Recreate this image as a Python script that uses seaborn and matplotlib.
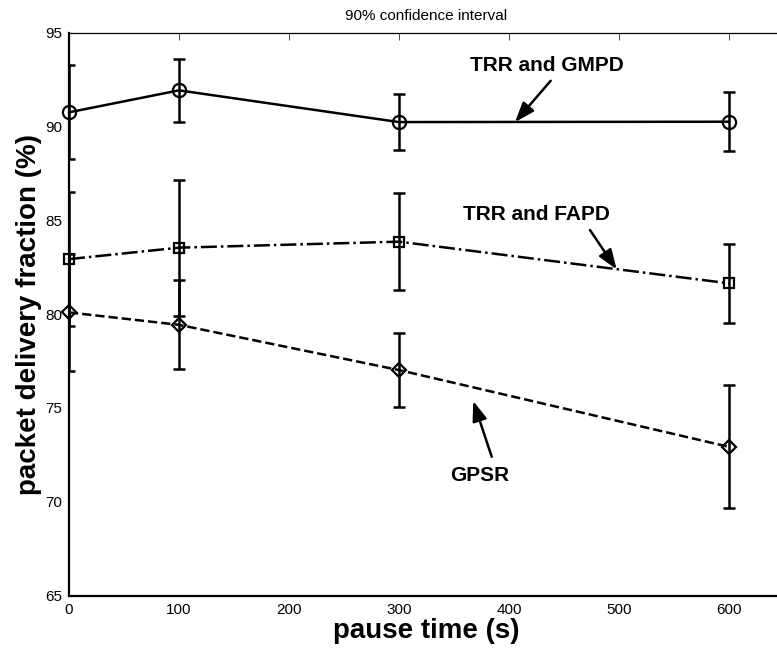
import numpy as np
import pandas as pd
import matplotlib
matplotlib.use("Agg")
import matplotlib.pyplot as plt
import seaborn as sns

# ----- data -----
pause_time = [0, 100, 300, 600]

gmpd = [90.75, 91.92, 90.23, 90.25]
gmpd_ci = [2.5, 1.66, 1.5, 1.58]

fapd = [82.93, 83.54, 83.86, 81.64]
fapd_ci = [3.55, 3.63, 2.6, 2.1]

gpsr = [80.09, 79.43, 77.02, 72.93]
gpsr_ci = [3.1, 2.37, 1.97, 3.28]

x_ticks = [0, 100, 200, 300, 400, 500, 600]
y_ticks = [65, 70, 75, 80, 85, 90, 95]
# ---------------------------------------

sns.set_style("white")
plt.rcParams['font.family'] = ['Liberation Sans', 'DejaVu Sans']
plt.rcParams.update({"text.color": "black", "axes.labelcolor": "black",
                     "xtick.color": "black", "ytick.color": "black"})

df = pd.DataFrame({
    "pause": pause_time * 3,
    "pdf": gmpd + fapd + gpsr,
    "ci": gmpd_ci + fapd_ci + gpsr_ci,
    "proto": ["TRR and GMPD"] * 4 + ["TRR and FAPD"] * 4 + ["GPSR"] * 4,
})

styles = {
    "TRR and GMPD": dict(linestyle="-", marker="o", markersize=9.5),
    "TRR and FAPD": dict(linestyle="-.", marker="s", markersize=7),
    "GPSR": dict(linestyle="--", marker="D", markersize=7.5),
}

fig = plt.figure(figsize=(7.77, 6.56), dpi=100)
ax = fig.add_axes([0.0888, 0.0919, 0.9202, 0.8585])

for name, st in styles.items():
    sub = df[df["proto"] == name]
    ax.errorbar(sub["pause"], sub["pdf"], yerr=sub["ci"], fmt="none",
                ecolor="black", elinewidth=1.8, capsize=4.5, capthick=1.8)
    sns.lineplot(data=sub, x="pause", y="pdf", ax=ax, color="black",
                 linewidth=1.8, markerfacecolor="none", markeredgecolor="black",
                 markeredgewidth=1.6, clip_on=False, zorder=3, **st)

ax.set_xlim(0, 650)
ax.set_ylim(65, 95)
ax.set_xticks(x_ticks)
ax.set_yticks(y_ticks)
ax.tick_params(direction="in", length=5, width=0.7, color="#444444",
               labelcolor="black", top=True, right=True, labelsize=11, pad=5)

for side in ["left", "bottom"]:
    ax.spines[side].set_linewidth(1.6)
for side in ["top", "right"]:
    ax.spines[side].set_linewidth(0.9)
for sp in ax.spines.values():
    sp.set_color("black")

ax.set_xlabel("pause time (s)", fontsize=20, fontweight="bold", labelpad=1)
ax.set_ylabel("packet delivery fraction (%)", fontsize=20, fontweight="bold", labelpad=2)
ax.set_title("90% confidence interval", fontsize=11, pad=9)

# labels with arrows
arrow_kw = dict(arrowstyle="-|>,head_length=0.6,head_width=0.22", lw=1.8,
                color="black", mutation_scale=20, shrinkA=0, shrinkB=0)
notes = [
    ("TRR and GMPD", (434.5, 93.27), (437.9, 92.43), (405.5, 90.23)),
    ("TRR and FAPD", (424.5, 85.33), (473.6, 84.48), (497.9, 82.38)),
    ("GPSR", (373.6, 71.40), (384.3, 72.40), (367.5, 75.37)),
]
for label, txt_pos, tail, tip in notes:
    ax.text(txt_pos[0], txt_pos[1], label, fontsize=15, fontweight="bold",
            ha="center", va="center", color="black")
    ax.annotate("", xy=tip, xytext=tail, arrowprops=arrow_kw)

plt.savefig("out.png", dpi=100)
